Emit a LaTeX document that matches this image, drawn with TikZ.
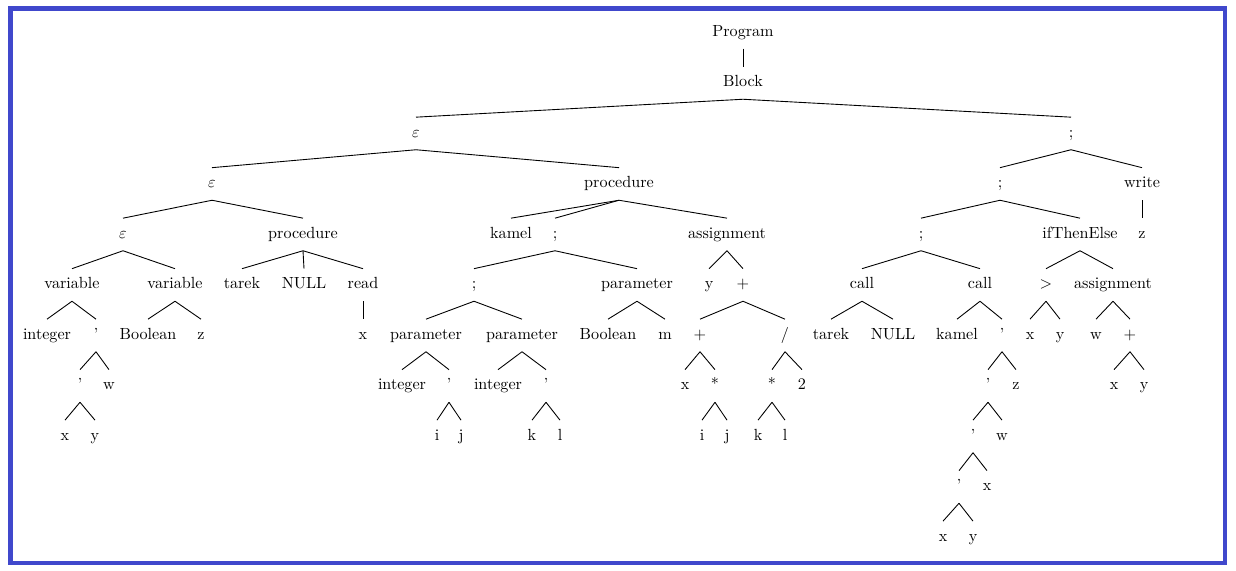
\documentclass[tikz,border=0pt]{standalone}
\usepackage{xcolor}
\definecolor{frameblue}{RGB}{64,72,204}
\begin{document}
\begin{tikzpicture}[x=0.62pt,y=-0.62pt,
  t/.style={text height=7pt,text depth=2pt,inner xsep=1pt,inner ysep=5.4pt,anchor=center},
  edge/.style={line width=0.55pt,black}]
\useasboundingbox (0,0) rectangle (1236,570);
\draw[frameblue,line width=2.8pt] (10.3,8.3) rectangle (1224.8,562.8);
\begin{scope}[yshift=-0.9pt]
% row 0-1
\node[t] (prog) at (743,31) {Program};
\node[t] (block) at (743,81.5) {Block};
% row 2
\node[t] (e2) at (416,132) {$\varepsilon$};
\node[t] (s2) at (1071,132) {;};
% row 3
\node[t] (e3) at (212,182.5) {$\varepsilon$};
\node[t] (proc3) at (619,182.5) {procedure};
\node[t] (s3) at (1000,182.5) {;};
\node[t] (write) at (1142,182.5) {write};
% row 4
\node[t] (e4) at (123,233) {$\varepsilon$};
\node[t] (proc4) at (303,233) {procedure};
\node[t] (kamel) at (511,233) {kamel};
\node[t] (s4a) at (555,233) {;};
\node[t] (asg4) at (727,233) {assignment};
\node[t] (s4b) at (921,233) {;};
\node[t] (ite) at (1080,233) {ifThenElse};
\node[t] (wz) at (1142,233) {z};
% row 5
\node[t] (var1) at (72,283.5) {variable};
\node[t] (var2) at (175,283.5) {variable};
\node[t] (tarek1) at (242,283.5) {tarek};
\node[t] (null1) at (304,283.5) {NULL};
\node[t] (read) at (363,283.5) {read};
\node[t] (s5) at (474,283.5) {;};
\node[t] (par5) at (637,283.5) {parameter};
\node[t] (ay) at (709,283.5) {y};
\node[t] (aplus) at (743,283.5) {$+$};
\node[t] (call1) at (862,283.5) {call};
\node[t] (call2) at (980,283.5) {call};
\node[t] (gt) at (1046,283.5) {$>$};
\node[t] (asg5) at (1113,283.5) {assignment};
% row 6
\node[t] (int1) at (47,334) {integer};
\node[t] (q1) at (96,334) {'};
\node[t] (bool1) at (148,334) {Boolean};
\node[t] (vz) at (201,334) {z};
\node[t] (rx) at (363,334) {x};
\node[t] (par6a) at (426,334) {parameter};
\node[t] (par6b) at (522,334) {parameter};
\node[t] (bool2) at (608,334) {Boolean};
\node[t] (pm) at (665,334) {m};
\node[t] (plus6) at (700,334) {$+$};
\node[t] (div6) at (785,334) {/};
\node[t] (tarek2) at (831,334) {tarek};
\node[t] (null2) at (893,334) {NULL};
\node[t] (kamel2) at (957,334) {kamel};
\node[t] (cq1) at (1002,334) {'};
\node[t] (gx) at (1030,334) {x};
\node[t] (gy) at (1060,334) {y};
\node[t] (aw) at (1096,334) {w};
\node[t] (plus6b) at (1130,334) {$+$};
% row 7
\node[t] (q2) at (80,384.5) {'};
\node[t] (qw) at (109,384.5) {w};
\node[t] (int2) at (402,384.5) {integer};
\node[t] (q3) at (449,384.5) {'};
\node[t] (int3) at (498,384.5) {integer};
\node[t] (q4) at (546,384.5) {'};
\node[t] (px) at (685,384.5) {x};
\node[t] (st1) at (715,384.5) {*};
\node[t] (st2) at (772,384.5) {*};
\node[t] (two) at (802,384.5) {2};
\node[t] (cq2) at (988,384.5) {'};
\node[t] (cz) at (1016,384.5) {z};
\node[t] (bx) at (1114,384.5) {x};
\node[t] (by) at (1144,384.5) {y};
% row 8
\node[t] (qx) at (65,435) {x};
\node[t] (qy) at (95,435) {y};
\node[t] (i1) at (437,435) {i};
\node[t] (j1) at (461,435) {j};
\node[t] (k1) at (532,435) {k};
\node[t] (l1) at (560,435) {l};
\node[t] (i2) at (702,435) {i};
\node[t] (j2) at (727,435) {j};
\node[t] (k2) at (758,435) {k};
\node[t] (l2) at (785,435) {l};
\node[t] (cq3) at (973,435) {'};
\node[t] (cw) at (1002,435) {w};
% row 9-10
\node[t] (cq4) at (959,485.5) {'};
\node[t] (cx) at (987,485.5) {x};
\node[t] (cx2) at (943,536) {x};
\node[t] (cy2) at (973,536) {y};
% edges
\foreach \a/\b in {prog/block, block/e2, block/s2, e2/e3, e2/proc3, e3/e4, e3/proc4,
  e4/var1, e4/var2, var1/int1, var1/q1, q1/q2, q1/qw, q2/qx, q2/qy, var2/bool1, var2/vz,
  proc4/tarek1, proc4/null1, proc4/read, read/rx, proc3/kamel, proc3/s4a, proc3/asg4,
  s4a/s5, s4a/par5, s5/par6a, s5/par6b, par6a/int2, par6a/q3, q3/i1, q3/j1,
  par6b/int3, par6b/q4, q4/k1, q4/l1, par5/bool2, par5/pm, asg4/ay, asg4/aplus,
  aplus/plus6, aplus/div6, plus6/px, plus6/st1, st1/i2, st1/j2, div6/st2, div6/two,
  st2/k2, st2/l2, s2/s3, s2/write, s3/s4b, s3/ite, s4b/call1, s4b/call2,
  call1/tarek2, call1/null2, call2/kamel2, call2/cq1, cq1/cq2, cq1/cz, cq2/cq3, cq2/cw,
  cq3/cq4, cq3/cx, cq4/cx2, cq4/cy2, ite/gt, ite/asg5, gt/gx, gt/gy, asg5/aw,
  asg5/plus6b, plus6b/bx, plus6b/by, write/wz}
  \draw[edge] (\a.south) -- (\b.north);
\end{scope}
\end{tikzpicture}
\end{document}
